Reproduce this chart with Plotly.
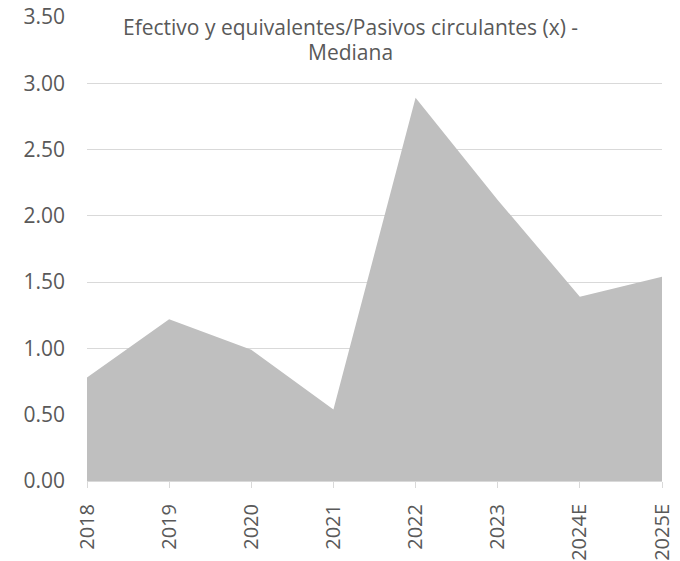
import plotly.graph_objects as go

categories = ["2018", "2019", "2020", "2021", "2022", "2023", "2024E", "2025E"]
values = [0.78, 1.22, 0.99, 0.54, 2.89, 2.12, 1.39, 1.54]
title_lines = ["Efectivo y equivalentes/Pasivos circulantes (x) -", "Mediana"]
y_ticks = [0, 0.5, 1.0, 1.5, 2.0, 2.5, 3.0, 3.5]

font_family = "Open Sans, Liberation Sans, sans-serif"
txt = "#595959"
grid = "#D9D9D9"

fig = go.Figure()
fig.add_trace(go.Scatter(
    x=categories, y=values, mode="none", fill="tozeroy",
    fillcolor="#BFBFBF", hoverinfo="skip", showlegend=False,
))

# page body has an 8px default margin, so the figure is sized to fit inside the window
fig.update_layout(
    width=672, height=553,
    margin=dict(l=79, r=18, t=9, b=80),
    paper_bgcolor="white", plot_bgcolor="white",
    font=dict(family=font_family, color=txt, size=20),
    xaxis=dict(
        type="category", range=[0, len(categories) - 1], automargin=False,
        tickangle=-90, showgrid=False, showline=True, linecolor=grid,
        ticks="outside", ticklen=6, tickcolor=grid,
        tickfont=dict(size=20, color=txt), zeroline=False,
        ticklabelstandoff=8, ticklabeloverflow="allow",
    ),
    yaxis=dict(
        range=[0, 3.5], tickvals=y_ticks, tickformat=".2f", automargin=False,
        showgrid=True, gridcolor=grid, gridwidth=1, zeroline=False,
        showline=False, ticks="", tickfont=dict(size=21, color=txt),
        ticklabelstandoff=21, ticklabeloverflow="allow",
    ),
)

for line, ypos in zip(title_lines, [0.9784, 0.9246]):
    fig.add_annotation(
        text=line, xref="paper", yref="paper",
        x=0.459, y=ypos, xanchor="center", yanchor="middle",
        showarrow=False, bgcolor="white", borderpad=1,
        font=dict(size=21, color=txt, family=font_family),
    )

fig.write_html("out.html")
